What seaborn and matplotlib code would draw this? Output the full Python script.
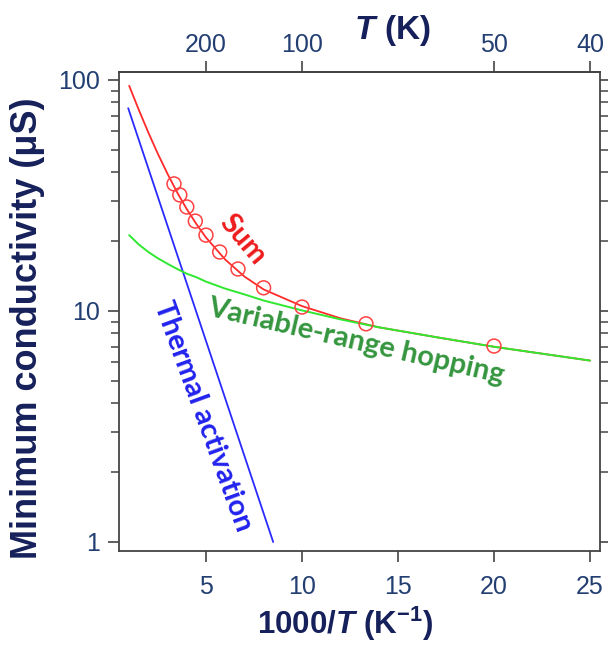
import numpy as np
import pandas as pd
import matplotlib
matplotlib.use("Agg")
import matplotlib.pyplot as plt
from matplotlib.ticker import FixedLocator, FixedFormatter, LogLocator, NullFormatter
import seaborn as sns

# Measured minimum conductivity at each temperature
T_meas = [300, 275, 250, 225, 200, 175, 150, 125, 100, 75, 50]
sigma_meas = [35.5, 31.8, 28.2, 24.5, 21.3, 18.0, 15.2, 12.6, 10.4, 8.8, 7.05]

# Model curves versus 1000/T
inv_T_curve = [1, 1.5, 2, 2.5, 3, 3.5, 4, 4.5, 5, 6, 7, 8, 10, 12, 14, 17, 20, 25]
sigma_vrh = [21.3, 19.4, 18.0, 16.9, 16.0, 15.2, 14.5, 14.0, 13.4, 12.5, 11.8, 11.1,
             10.06, 9.2, 8.5, 7.7, 7.0, 6.1]
sigma_sum = [94.4, 74.3, 59.2, 47.8, 39.2, 32.6, 27.6, 23.8, 20.8, 16.7, 14.1, 12.4,
             10.5, 9.3, 8.5, 7.7, 7.0, 6.1]

# Thermally activated (Arrhenius) component: straight on the log axis
inv_T_ta = [0.95, 8.5]
sigma_ta = [75.5, 1.0]

# Top axis temperature ticks
T_ticks = [200, 100, 50, 40]

sns.set_theme(style="ticks")
plt.rcParams["font.family"] = ["Liberation Sans", "DejaVu Sans"]
plt.rcParams["mathtext.fontset"] = "custom"
plt.rcParams["mathtext.it"] = "Liberation Sans:italic:bold"
plt.rcParams["mathtext.bf"] = "Liberation Sans:bold"
plt.rcParams["mathtext.rm"] = "Liberation Sans:bold"

tick_col = "#233f72"
label_col = "#16205a"
spine_col = "#444444"

fig = plt.figure(figsize=(6.08, 6.46), dpi=100)
ax = fig.add_axes([119 / 608, 1 - 551 / 646, 481 / 608, 479 / 646])

meas = pd.DataFrame({"inv_T": [1000.0 / t for t in T_meas], "sigma": sigma_meas})
curves = pd.DataFrame({"inv_T": inv_T_curve, "vrh": sigma_vrh, "sum": sigma_sum})
ta = pd.DataFrame({"inv_T": inv_T_ta, "sigma": sigma_ta})

sns.lineplot(data=curves, x="inv_T", y="sum", ax=ax, color="#ff2a2a", lw=1.3,
             sort=False, zorder=3)
sns.lineplot(data=curves, x="inv_T", y="vrh", ax=ax, color="#2fe82f", lw=1.4,
             sort=False, zorder=4)
sns.lineplot(data=ta, x="inv_T", y="sigma", ax=ax, color="#2a2aff", lw=1.3,
             sort=False, zorder=3)
sns.scatterplot(data=meas, x="inv_T", y="sigma", ax=ax, s=100, marker="o",
                facecolor="none", edgecolor="#ff4040", linewidth=1.1, zorder=5)

ax.set_yscale("log")
ax.set_xlim(0.47, 25.52)
ax.set_ylim(0.914, 108.3)

# Bottom axis
ax.xaxis.set_major_locator(FixedLocator([5, 10, 15, 20, 25]))
ax.tick_params(axis="x", which="major", direction="out", length=8, width=1.2,
               colors=spine_col, labelcolor=tick_col, labelsize=18, pad=9)

# Left / right log axis
ax.yaxis.set_major_locator(FixedLocator([1, 10, 100]))
ax.yaxis.set_major_formatter(FixedFormatter(["1", "10", "100"]))
ax.yaxis.set_minor_locator(LogLocator(base=10, subs=np.arange(2, 10)))
ax.yaxis.set_minor_formatter(NullFormatter())
ax.tick_params(axis="y", which="major", direction="out", length=8, width=1.2,
               colors=spine_col, labelcolor=tick_col, labelsize=18, pad=6,
               right=True)
ax.tick_params(axis="y", which="minor", direction="out", length=5.5, width=1.1,
               colors=spine_col, right=True)

for s in ax.spines.values():
    s.set_visible(True)
    s.set_color(spine_col)
    s.set_linewidth(1.3)

# Top temperature axis
secax = ax.secondary_xaxis("top", functions=(lambda x: 1000.0 / np.asarray(x, float),
                                             lambda t: 1000.0 / np.asarray(t, float)))
secax.xaxis.set_major_locator(FixedLocator(T_ticks))
secax.xaxis.set_major_formatter(FixedFormatter([str(t) for t in T_ticks]))
secax.xaxis.set_minor_locator(FixedLocator([]))
secax.tick_params(axis="x", which="major", direction="out", length=8, width=1.2,
                  colors=spine_col, labelcolor=tick_col, labelsize=18, pad=3)
secax.spines["top"].set_color(spine_col)
secax.spines["top"].set_linewidth(1.3)

ax.set_xlabel("")
ax.set_ylabel("")
fig.text(345 / 608, 1 - 624 / 646, r"$\mathbf{1000/}\mathit{T}\ \mathbf{(K^{-1})}$",
         ha="center", va="center", fontsize=22.5, color=label_col)
fig.text(392 / 608, 1 - 30 / 646, r"$\mathit{T}\ \mathbf{(K)}$",
         ha="center", va="center", fontsize=24, color=label_col)
fig.text(28 / 608, 1 - 328 / 646, "Minimum conductivity (μS)", rotation=90,
         ha="center", va="center", fontsize=26, fontweight="bold", color=label_col)

# Curve annotations
ann_font = ["Lato", "DejaVu Sans"]
ax.text(6.93, 20.3, "Sum", color="#ee1c1c", fontsize=21, fontweight="bold",
        family=ann_font, rotation=-50, rotation_mode="anchor", ha="center", va="center")
ax.text(12.8, 7.35, "Variable-range hopping", color="#35963f", fontsize=21,
        fontweight="bold", family=ann_font, rotation=-13, rotation_mode="anchor",
        ha="center", va="center")
ax.text(4.84, 3.51, "Thermal activation", color="#2222ee", fontsize=21,
        fontweight="bold", family=ann_font, rotation=-70, rotation_mode="anchor",
        ha="center", va="center")

fig.savefig("out.png", dpi=100, facecolor="white")
